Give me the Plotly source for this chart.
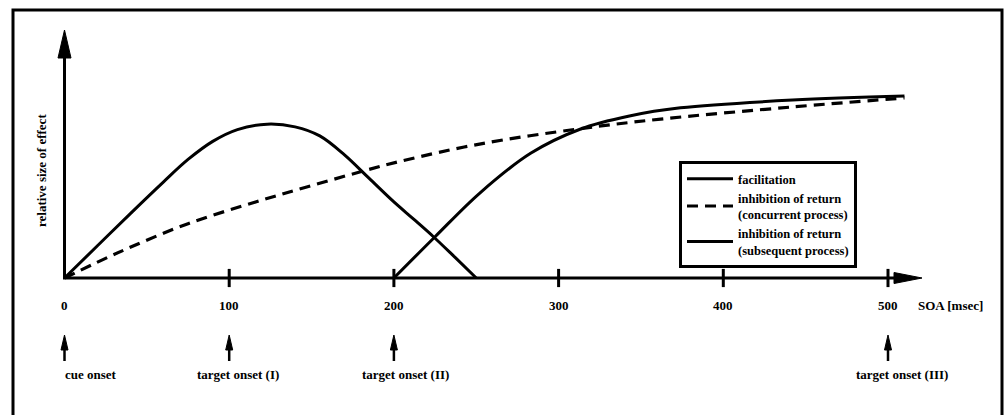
import plotly.graph_objects as go

# ---------------- data ----------------
fac_x = [0, 20, 40, 60, 75, 90, 105, 123, 140, 155, 170, 185, 200, 212, 224, 237, 250]
fac_y = [0, 0.178, 0.356, 0.53, 0.655, 0.755, 0.82, 0.85, 0.835, 0.785, 0.68, 0.55, 0.42,
         0.325, 0.228, 0.115, 0]

ior_con_x = [0, 35, 75, 116, 146, 181, 204, 252, 313, 362, 442, 510]
ior_con_y = [0, 0.15, 0.30, 0.42, 0.50, 0.59, 0.645, 0.74, 0.825, 0.878, 0.945, 0.995]

ior_sub_x = [200, 225, 252, 283, 313, 343, 374, 442, 510]
ior_sub_y = [0, 0.228, 0.468, 0.689, 0.822, 0.895, 0.94, 0.983, 1.005]

tick_vals = [0, 100, 200, 300, 400, 500]
tick_labels = ["0", "100", "200", "300", "400", "500"]
tick_marks = [100, 200, 300, 400, 500]

onset_x = [0, 100, 200, 500]
onset_labels = ["cue onset", "target onset (I)", "target onset (II)", "target onset (III)"]

series_names = ["facilitation",
                "inhibition of return<br>(concurrent process)",
                "inhibition of return<br>(subsequent process)"]

x_axis_label = "SOA [msec]"
y_axis_label = "relative size of effect"

# ---------------- geometry ----------------
W, H = 1006, 415
X0PX, XSCALE = 64.5, 1.647      # px of x=0, px per ms
Y0PX, YSCALE = 278.0, 181.0     # px of y=0, px per unit


def xd(px):
    return (px - X0PX) / XSCALE


def yd(py):
    return (Y0PX - py) / YSCALE


FONT = dict(family="Liberation Serif", size=13, color="black", weight="bold")
LEGEND_FONT = dict(family="Liberation Serif", size=12.5, color="black", weight="bold")

fig = go.Figure()

fig.add_trace(go.Scatter(x=fac_x, y=fac_y, mode="lines", name=series_names[0],
                         line=dict(color="black", width=3, shape="spline", smoothing=1)))
fig.add_trace(go.Scatter(x=ior_con_x, y=ior_con_y, mode="lines", name=series_names[1],
                         line=dict(color="black", width=3.2, dash="11px,7px", shape="spline",
                                   smoothing=1)))
fig.add_trace(go.Scatter(x=ior_sub_x, y=ior_sub_y, mode="lines", name=series_names[2],
                         line=dict(color="black", width=3, shape="spline", smoothing=1)))

# tick marks crossing the x axis
fig.add_trace(go.Scatter(x=tick_marks, y=[0] * len(tick_marks), mode="markers",
                         showlegend=False, hoverinfo="skip",
                         marker=dict(symbol="line-ns", size=13,
                                     line=dict(color="black", width=3))))

shapes = []
annotations = []

# outer frame
shapes.append(dict(type="rect", xref="paper", yref="paper",
                   x0=13 / W, x1=1002 / W, y0=-0.2, y1=1 - 10 / H,
                   line=dict(color="black", width=3), fillcolor="rgba(0,0,0,0)"))

# y axis with arrow
y_tip = yd(30)
shapes.append(dict(type="line", xref="x", yref="y", x0=0, x1=0, y0=0, y1=yd(50),
                   line=dict(color="black", width=3)))
shapes.append(dict(type="path", xref="x", yref="y", xsizemode="pixel", ysizemode="pixel",
                   xanchor=0, yanchor=y_tip,
                   path="M0,0 L-6.5,-28 L6.5,-28 Z",
                   fillcolor="black", line=dict(color="black", width=1)))

# x axis with arrow
x_tip = xd(922)
shapes.append(dict(type="line", xref="x", yref="y", x0=xd(63), x1=xd(900), y0=0, y1=0,
                   line=dict(color="black", width=3)))
shapes.append(dict(type="path", xref="x", yref="y", xsizemode="pixel", ysizemode="pixel",
                   xanchor=x_tip, yanchor=0,
                   path="M0,0 L-28,-5.5 L-28,5.5 Z",
                   fillcolor="black", line=dict(color="black", width=1)))

# tick labels
for v, t in zip(tick_vals, tick_labels):
    annotations.append(dict(x=v, y=yd(305), xref="x", yref="y", text=t, showarrow=False,
                            font=FONT, xanchor="center", yanchor="middle"))
annotations.append(dict(x=xd(950), y=yd(305), xref="x", yref="y", text=x_axis_label,
                        showarrow=False, font=FONT, xanchor="center", yanchor="middle"))

# y axis label
annotations.append(dict(x=xd(41), y=yd(171), xref="x", yref="y", text=y_axis_label,
                        textangle=-90, showarrow=False, font=FONT,
                        xanchor="center", yanchor="middle"))

# onset arrows and labels
for i, (v, t) in enumerate(zip(onset_x, onset_labels)):
    shapes.append(dict(type="line", xref="x", yref="y", x0=v, x1=v, y0=yd(361), y1=yd(345),
                       line=dict(color="black", width=2.5)))
    shapes.append(dict(type="path", xref="x", yref="y", xsizemode="pixel", ysizemode="pixel",
                       xanchor=v, yanchor=yd(335),
                       path="M0,0 L-3.5,-15 L3.5,-15 Z",
                       fillcolor="black", line=dict(color="black", width=1)))
    annotations.append(dict(x=v, y=yd(374), xref="x", yref="y", text=t, showarrow=False,
                            font=FONT, xanchor="left", yanchor="middle",
                            xshift=-2 if i == 0 else -34))

fig.update_layout(
    width=W, height=H,
    margin=dict(l=0, r=0, t=0, b=0),
    paper_bgcolor="white", plot_bgcolor="white",
    xaxis=dict(range=[xd(0), xd(W)], visible=False, fixedrange=True),
    yaxis=dict(range=[yd(H), yd(0)], visible=False, fixedrange=True),
    shapes=shapes,
    annotations=annotations,
    showlegend=True,
    legend=dict(x=679 / W, y=1 - 161 / H, xanchor="left", yanchor="top",
                bordercolor="black", borderwidth=3, bgcolor="white",
                font=LEGEND_FONT, itemwidth=46, tracegroupgap=0),
    font=FONT,
)

fig.write_html("out.html", config={"displayModeBar": False},
               post_script="document.body.style.margin='0';")
